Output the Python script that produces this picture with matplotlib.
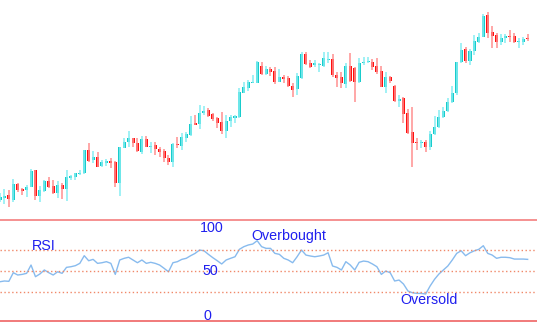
import numpy as np
import matplotlib
matplotlib.use("Agg")
import matplotlib.pyplot as plt

# Candle data (arbitrary price units)
opens = [20, 22, 25, 20, 36, 31, 30, 33, 50, 24, 29, 39, 34, 27, 35, 31, 42, 43, 46, 47,
         70, 60, 63, 54, 57, 59, 58, 37, 72, 78, 82, 77, 68, 81, 73, 75, 71, 69, 62, 58,
         76, 74, 82, 85, 97, 96, 107, 110, 106, 102, 98, 89, 99, 102, 103, 127, 132, 137, 137, 154,
         146, 151, 149, 138, 143, 142, 134, 131, 142, 166, 157, 155, 155, 154, 160, 161, 145, 143, 136, 154,
         152, 138, 157, 158, 158, 154, 149, 133, 143, 134, 119, 122, 107, 88, 78, 77, 78, 73, 86, 93,
         103, 109, 118, 127, 158, 171, 159, 169, 178, 183, 205, 188, 185, 178, 182, 184, 184, 178, 178, 182]
closes = [23, 24, 21, 36, 30, 29, 33, 49, 24, 30, 39, 33, 27, 35, 31, 43, 44, 47, 47, 70,
          59, 63, 53, 58, 59, 57, 37, 73, 78, 82, 77, 69, 81, 73, 74, 71, 68, 62, 58, 76,
          75, 83, 86, 96, 95, 107, 109, 104, 101, 97, 89, 99, 103, 104, 128, 133, 138, 138, 158, 146,
          151, 148, 138, 143, 141, 134, 130, 144, 166, 156, 153, 157, 156, 162, 161, 145, 142, 137, 154, 139,
          138, 157, 158, 159, 153, 148, 133, 143, 139, 119, 121, 106, 87, 77, 77, 78, 73, 86, 93, 103,
          109, 118, 127, 158, 170, 159, 169, 179, 183, 204, 187, 184, 178, 182, 184, 183, 178, 179, 181, 181]
highs = [27, 31, 30, 41, 37, 32, 35, 51, 50, 34, 40, 43, 40, 39, 37, 50, 45, 47, 50, 70,
         77, 69, 68, 60, 61, 62, 59, 73, 82, 89, 82, 82, 84, 84, 78, 78, 73, 71, 65, 77,
         83, 87, 88, 104, 105, 115, 114, 112, 107, 103, 108, 105, 105, 105, 132, 138, 140, 145, 159, 158,
         154, 153, 153, 151, 145, 144, 137, 147, 168, 168, 160, 160, 157, 168, 168, 166, 148, 148, 157, 167,
         153, 162, 163, 163, 161, 162, 154, 148, 144, 135, 125, 123, 111, 113, 82, 80, 80, 89, 104, 110,
         113, 122, 134, 158, 177, 173, 171, 185, 187, 206, 208, 194, 187, 186, 186, 190, 187, 182, 183, 186]
lows = [18, 16, 13, 18, 28, 25, 23, 33, 20, 18, 28, 32, 26, 22, 21, 19, 40, 40, 45, 46,
        58, 57, 53, 53, 54, 52, 33, 24, 72, 73, 73, 68, 66, 73, 67, 65, 63, 58, 55, 53,
        72, 70, 78, 84, 95, 91, 105, 103, 99, 92, 86, 82, 93, 97, 102, 127, 129, 137, 137, 145,
        145, 144, 136, 138, 137, 133, 123, 125, 141, 155, 152, 153, 148, 153, 157, 143, 133, 132, 132, 138,
        118, 137, 155, 157, 150, 146, 133, 127, 137, 118, 113, 97, 86, 53, 70, 72, 68, 70, 85, 92,
        102, 108, 117, 125, 157, 157, 155, 165, 177, 183, 182, 172, 172, 175, 177, 178, 177, 172, 175, 179]

rsi = [39.5, 40.2, 39.9, 48.1, 45.9, 46.5, 47.5, 55.4, 44.3, 46.9, 50.7, 48.1, 45.9, 49.0, 47.5,
       53.2, 53.8, 54.8, 57.0, 64.3, 59.5, 60.8, 57.0, 57.6, 58.6, 57.0, 46.5, 60.2, 61.8, 62.8,
       60.2, 57.6, 60.2, 57.0, 58.0, 57.0, 55.4, 52.3, 49.0, 57.6, 58.6, 60.8, 61.8, 64.3, 66.5,
       69.7, 69.0, 65.6, 62.4, 59.5, 56.4, 60.2, 61.8, 63.3, 70.4, 72.9, 74.5, 75.4, 78.6, 72.9,
       71.3, 71.3, 66.5, 65.6, 61.8, 60.2, 57.6, 63.3, 69.7, 64.9, 64.0, 63.3, 64.0, 64.9, 67.1,
       54.5, 53.2, 50.7, 58.6, 55.4, 50.7, 58.0, 59.2, 58.6, 56.4, 53.8, 46.5, 49.7, 48.1, 40.2,
       41.1, 37.3, 30.7, 29.0, 28.4, 28.4, 27.8, 35.4, 41.8, 46.9, 50.7, 54.5, 60.2, 66.5, 69.0,
       64.3, 67.1, 69.0, 70.4, 73.8, 66.5, 64.9, 61.8, 62.8, 62.8, 62.4, 61.1, 61.1, 61.1, 60.8]

rsi_levels = [30, 50, 70]

UP = "#19CCCC"
DOWN = "#FF1010"
UP_WICK = "#86EEF2"
DOWN_WICK = "#FF9090"
TXT = "#1F1FEF"

fig = plt.figure(figsize=(5.37, 3.35), dpi=100)
ax = fig.add_axes([0, 115 / 335, 1, 220 / 335])
ax2 = fig.add_axes([0, 14 / 335, 1, 101 / 335])

x = np.arange(len(opens))
o = np.array(opens)
c = np.array(closes)
up = c >= o
wick_cols = np.where(up, UP_WICK, DOWN_WICK)
body_cols = np.where(up, UP, DOWN)

ax.vlines(x, lows, highs, colors=wick_cols, linewidth=1.1)
ax.bar(x, np.abs(c - o) + 0.8, bottom=np.minimum(o, c) - 0.4, width=0.68,
       color=body_cols, linewidth=0)
xmax = 537 / 4.434
ax.set_xlim(0, xmax)
ax.set_ylim(0, 220)
ax.axis("off")

# RSI panel
ax2.plot(x, rsi, color="#88BBEE", linewidth=1)
for lvl in rsi_levels:
    ax2.axhline(lvl, color="#F08868", linewidth=1, linestyle=(0, (1, 1.8)))
ax2.set_xlim(0, xmax)
ax2.set_ylim(2.1, 98.3)
for side in ["left", "right"]:
    ax2.spines[side].set_visible(False)
ax2.spines["top"].set_color("#F48888")
ax2.spines["top"].set_linewidth(1.3)
ax2.spines["bottom"].set_color("#F07070")
ax2.spines["bottom"].set_linewidth(1.3)
ax2.set_xticks([])
ax2.set_yticks([])

fs = 10.3
font = "Liberation Sans"
ax2.text(7.2, 69.7, "RSI", color=TXT, fontsize=fs, family=font)
ax2.text(56.8, 79.7, "Overbought", color=TXT, fontsize=fs, family=font)
ax2.text(90.4, 18.3, "Oversold", color=TXT, fontsize=fs, family=font)
ax2.text(45.1, 87.1, "100", color=TXT, fontsize=fs, family=font)
ax2.text(45.6, 45.9, "50", color=TXT, fontsize=fs, family=font)
ax2.text(46.0, 3.0, "0", color=TXT, fontsize=fs, family=font)

fig.savefig("out.png", dpi=100)
